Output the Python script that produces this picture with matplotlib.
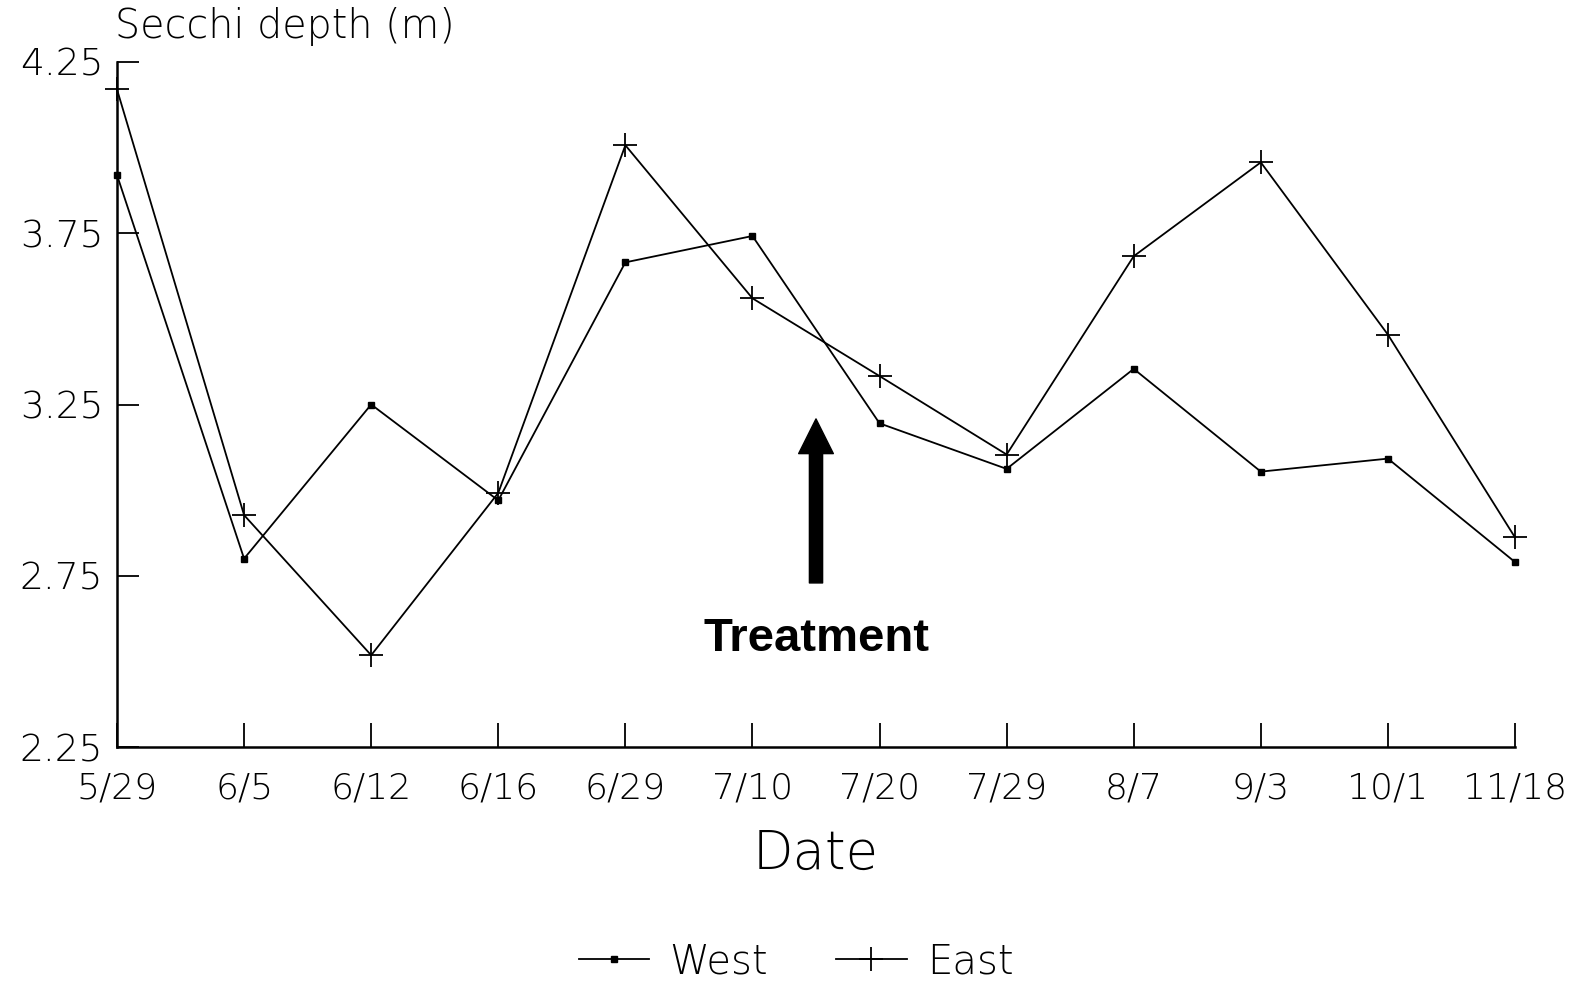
import matplotlib
matplotlib.use("Agg")
import matplotlib.pyplot as plt

dates = ["5/29", "6/5", "6/12", "6/16", "6/29", "7/10", "7/20", "7/29", "8/7", "9/3", "10/1", "11/18"]
west = [3.92, 2.80, 3.25, 2.97, 3.665, 3.742, 3.195, 3.062, 3.354, 3.054, 3.092, 2.79]
east = [4.17, 2.927, 2.518, 2.992, 4.007, 3.56, 3.333, 3.104, 3.683, 3.957, 3.454, 2.862]
yticks = [2.25, 2.75, 3.25, 3.75, 4.25]
treatment_x = 5.5
arrow_y = (2.729, 3.208)

plt.rcParams['font.family'] = ['DejaVu Sans']
light = dict(fontweight='light')

fig = plt.figure(figsize=(15.81, 9.85), dpi=100)
ax = fig.add_axes([117/1581, 1-747/985, (1515-117)/1581, (747-62)/985])
x = list(range(len(dates)))
ax.plot(x, west, color='black', lw=1.3, marker='s', ms=5, mfc='black', mec='black',
        label='West', clip_on=False)
ax.plot(x, east, color='black', lw=1.3, marker='+', ms=17, mew=1.3,
        label='East', clip_on=False)

ax.set_xlim(0, len(dates)-1)
ax.set_ylim(yticks[0], yticks[-1])
ax.set_xticks(x)
ax.set_xticklabels(dates, fontsize=26, **light)
ax.set_yticks(yticks)
ax.set_yticklabels([f"{v:.2f}" for v in yticks], fontsize=27, **light)
ax.tick_params(axis='x', direction='in', length=17, width=1.3, pad=18)
ax.tick_params(axis='y', direction='in', length=16, width=1.3, pad=10)
for s in ['top', 'right']:
    ax.spines[s].set_visible(False)
for s in ['left', 'bottom']:
    ax.spines[s].set_linewidth(1.8)

ax.set_xlabel('Date', fontsize=38, labelpad=16, **light)
fig.text(115/1581, 1-27/985, 'Secchi depth (m)', fontsize=28.5, ha='left', va='center', **light)

ax.annotate('', xy=(treatment_x, arrow_y[1]), xytext=(treatment_x, arrow_y[0]),
            arrowprops=dict(arrowstyle='simple,head_length=1.0,head_width=1.0,tail_width=0.38',
                            mutation_scale=25, color='black', shrinkA=0, shrinkB=0))
ax.text(treatment_x, 2.565, 'Treatment', fontsize=34, fontweight='bold',
        family='Liberation Sans', ha='center', va='center')

fig.legend(loc='center', bbox_to_anchor=(796/1581, 1-962/985), ncol=2, frameon=False,
           handlelength=1.75, columnspacing=1.7, handletextpad=0.5,
           prop=dict(size=29, weight='light'))

fig.savefig('out.png', dpi=100, facecolor='white')
